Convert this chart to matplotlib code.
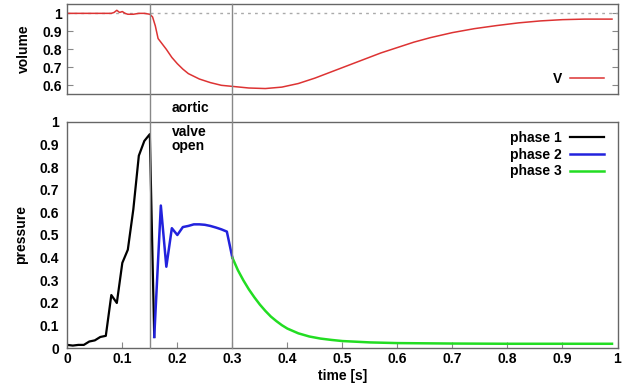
import matplotlib
matplotlib.use("Agg")
import matplotlib.pyplot as plt
from matplotlib.lines import Line2D
from matplotlib.transforms import blended_transform_factory

# ---- data ----
vol_t = [0.0, 0.02, 0.04, 0.06, 0.08, 0.085, 0.09, 0.095, 0.10, 0.105, 0.11, 0.12, 0.13, 0.14, 0.15,
         0.155, 0.16, 0.165, 0.17, 0.18, 0.19, 0.20, 0.21, 0.22, 0.24, 0.26, 0.28, 0.30, 0.33, 0.36,
         0.39, 0.42, 0.45, 0.48, 0.51, 0.54, 0.57, 0.60, 0.63, 0.66, 0.70, 0.74, 0.78, 0.82, 0.86,
         0.90, 0.94, 0.99]
vol_v = [1.0, 1.0, 1.0, 1.0, 1.0, 1.005, 1.017, 1.005, 1.01, 1.0, 0.995, 0.995, 1.0, 1.0, 0.995,
         0.98, 0.93, 0.86, 0.84, 0.80, 0.755, 0.72, 0.69, 0.665, 0.635, 0.615, 0.60, 0.594, 0.585, 0.582,
         0.59, 0.61, 0.64, 0.675, 0.71, 0.745, 0.78, 0.81, 0.84, 0.865, 0.893, 0.915, 0.932, 0.947, 0.958,
         0.965, 0.968, 0.968]

p1_t = [0.0, 0.01, 0.02, 0.03, 0.04, 0.05, 0.06, 0.07, 0.08, 0.09, 0.10, 0.11, 0.12, 0.13, 0.14, 0.15, 0.158]
p1_v = [0.015, 0.012, 0.015, 0.015, 0.03, 0.035, 0.05, 0.055, 0.235, 0.20, 0.377, 0.435, 0.613, 0.85, 0.915, 0.945, 0.05]

p2_t = [0.158, 0.17, 0.18, 0.19, 0.20, 0.21, 0.22, 0.23, 0.24, 0.25, 0.26, 0.27, 0.28, 0.29, 0.30]
p2_v = [0.05, 0.63, 0.36, 0.53, 0.50, 0.535, 0.54, 0.547, 0.547, 0.545, 0.54, 0.533, 0.525, 0.515, 0.40]

p3_t = [0.30, 0.31, 0.32, 0.33, 0.34, 0.35, 0.36, 0.37, 0.38, 0.39, 0.40, 0.42, 0.44, 0.46, 0.48,
        0.50, 0.55, 0.60, 0.70, 0.80, 0.90, 0.99]
p3_v = [0.40, 0.345, 0.30, 0.26, 0.225, 0.193, 0.165, 0.14, 0.12, 0.102, 0.087, 0.066, 0.052, 0.043, 0.037,
        0.032, 0.026, 0.023, 0.021, 0.02, 0.02, 0.02]

valve_open = 0.15
valve_close = 0.30

xticks = [0, 0.1, 0.2, 0.3, 0.4, 0.5, 0.6, 0.7, 0.8, 0.9, 1]
xticklabels = ["0", "0.1", "0.2", "0.3", "0.4", "0.5", "0.6", "0.7", "0.8", "0.9", "1"]
vol_yticks = [0.6, 0.7, 0.8, 0.9, 1]
vol_yticklabels = ["0.6", "0.7", "0.8", "0.9", "1"]
p_yticks = [0, 0.1, 0.2, 0.3, 0.4, 0.5, 0.6, 0.7, 0.8, 0.9, 1]
p_yticklabels = ["0", "0.1", "0.2", "0.3", "0.4", "0.5", "0.6", "0.7", "0.8", "0.9", "1"]

FS = 10
plt.rcParams['font.family'] = ['Liberation Sans', 'DejaVu Sans']
plt.rcParams['font.weight'] = 'bold'
plt.rcParams['font.size'] = FS

fig = plt.figure(figsize=(6.35, 3.91), dpi=100)
W, H = 635, 391
L, R = 67.3 / W, 617.5 / W
ax1 = fig.add_axes([L, 1 - 94.3 / H, R - L, (94.3 - 4) / H])
ax2 = fig.add_axes([L, 1 - 348.3 / H, R - L, (348.3 - 121.7) / H])

spine_c = '#666666'
for ax in (ax1, ax2):
    for s in ax.spines.values():
        s.set_color(spine_c)
        s.set_linewidth(1.0)
    ax.set_xlim(0, 1)

leg_kw = dict(frameon=False, markerfirst=False, handlelength=2.45, handletextpad=0.6,
              borderaxespad=0.55, prop={'weight': 'bold', 'size': FS})

# top panel
ax1.axhline(1.0, color='#aaaaaa', ls=(0, (2, 3)), lw=1.0)
ax1.plot(vol_t, vol_v, color='#dd3333', lw=1.1, label='V')
ax1.set_ylim(0.55, 1.052)
ax1.set_yticks(vol_yticks)
ax1.set_yticklabels(vol_yticklabels, fontweight='bold')
ax1.set_xticks([])
ax1.tick_params(axis='y', direction='in', length=4, color='#888888', right=True, pad=4)
ax1.set_ylabel('volume', fontweight='bold', labelpad=8)
ax1.legend(loc='lower right', bbox_to_anchor=(1.0, -0.055), **leg_kw)

# bottom panel
ax2.plot(p1_t, p1_v, color='black', lw=1.6, label='phase 1')
ax2.plot(p2_t, p2_v, color='#2222dd', lw=1.8, label='phase 2')
ax2.plot(p3_t, p3_v, color='#22dd22', lw=1.8, label='phase 3')
ax2.set_ylim(0, 1)
ax2.set_xticks(xticks)
ax2.set_xticklabels(xticklabels, fontweight='bold')
ax2.set_yticks(p_yticks)
ax2.set_yticklabels(p_yticklabels, fontweight='bold')
ax2.tick_params(axis='x', direction='in', length=4, color='#888888', pad=3)
ax2.tick_params(axis='y', direction='in', length=0, pad=6)
ax2.set_xlabel('time [s]', fontweight='bold', labelpad=2)
ax2.set_ylabel('pressure', fontweight='bold', labelpad=8)
ax2.legend(loc='upper right', bbox_to_anchor=(1.0, 1.018), labelspacing=0.2, **leg_kw)

# valve lines spanning both panels
tr = blended_transform_factory(ax2.transData, fig.transFigure)
y_bot = 1 - 348.3 / H
y_top = 1 - 4 / H
for xv in (valve_open, valve_close):
    fig.add_artist(Line2D([xv, xv], [y_bot, y_top], transform=tr, color='#888888', lw=1.0, zorder=0.5))

fig.text(0.19, 1 - 108 / H, 'aortic', transform=tr, ha='left', va='center', fontweight='bold', fontsize=FS)
ax2.text(0.19, 0.985, 'valve\nopen', ha='left', va='top', fontweight='bold', fontsize=FS, linespacing=0.95)

fig.savefig('out.png', dpi=100)
